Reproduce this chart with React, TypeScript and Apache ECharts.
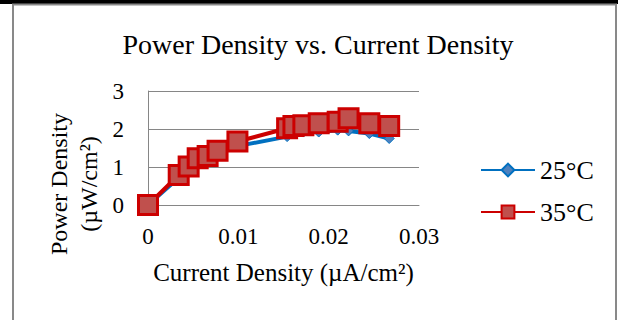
import React, { useEffect, useRef } from "react";
import * as echarts from "echarts";

const xValues = [0, 0.0034, 0.0045, 0.0055, 0.0066, 0.0077, 0.0099, 0.0154, 0.0161, 0.0172, 0.0189, 0.021, 0.0222, 0.0245, 0.0267];
const series25 = [0, 0.72, 0.95, 1.12, 1.22, 1.34, 1.55, 1.8, 1.88, 1.92, 1.92, 1.97, 1.95, 1.88, 1.75];
const series35 = [0, 0.79, 1.01, 1.23, 1.29, 1.43, 1.67, 2.02, 2.08, 2.1, 2.15, 2.19, 2.28, 2.15, 2.08];
const xTicks = [0, 0.01, 0.02, 0.03];
const yTicks = [0, 1, 2, 3];
const seriesNames = ["25°C", "35°C"];

const FONT = "'Liberation Serif', 'Times New Roman', serif";

export default function App() {
  const ref = useRef<HTMLDivElement>(null);
  useEffect(() => {
    if (!ref.current) return;
    const chart = echarts.init(ref.current, undefined, { renderer: "svg" });
    chart.setOption({
      animation: false,
      backgroundColor: "#ffffff",
      textStyle: { fontFamily: FONT, color: "#000" },
      title: {
        text: "Power Density vs. Current Density",
        left: 313,
        textAlign: "center",
        top: 25,
        textStyle: { fontFamily: FONT, fontSize: 28, fontWeight: "normal", color: "#000" },
      },
      graphic: [
        { type: "rect", shape: { x: 0, y: 0, width: 618, height: 4 }, style: { fill: "#000" }, z: 10 },
        { type: "rect", shape: { x: 13, y: 4.5, width: 603, height: 330 }, style: { fill: "none", stroke: "#898989", lineWidth: 2 }, z: 10 },
      ],
      legend: {
        orient: "vertical",
        left: 475,
        top: 152,
        itemWidth: 54,
        itemHeight: 16,
        itemGap: 16,
        data: seriesNames,
        textStyle: { fontFamily: FONT, fontSize: 26, color: "#000" },
      },
      grid: { left: 148, right: 199, top: 91, bottom: 115 },
      xAxis: {
        type: "value",
        min: xTicks[0],
        max: xTicks[xTicks.length - 1],
        interval: 0.01,
        name: "Current Density (µA/cm²)",
        nameLocation: "middle",
        nameGap: 55,
        nameTextStyle: { fontFamily: FONT, fontSize: 25, color: "#000" },
        axisLine: { lineStyle: { color: "#868686", width: 1 } },
        axisTick: { show: false },
        splitLine: { show: false },
        axisLabel: { fontFamily: FONT, fontSize: 23, color: "#000", margin: 20 },
      },
      yAxis: {
        type: "value",
        min: yTicks[0],
        max: yTicks[yTicks.length - 1],
        interval: 1,
        name: "Power Density\n(µW/cm²)",
        nameLocation: "middle",
        nameRotate: 90,
        nameGap: 44,
        nameTextStyle: { fontFamily: FONT, fontSize: 24, color: "#000", lineHeight: 30, padding: [0, 72, 0, 0] },
        axisLine: { show: true, lineStyle: { color: "#868686", width: 1 } },
        axisTick: { show: false },
        splitLine: { lineStyle: { color: "#868686", width: 1 } },
        axisLabel: { fontFamily: FONT, fontSize: 23, color: "#000", margin: 24 },
      },
      series: [
        {
          name: seriesNames[0],
          type: "line",
          data: xValues.map((x, i) => [x, series25[i]]),
          symbol: "diamond",
          symbolSize: 10,
          lineStyle: { color: "#0070C0", width: 4 },
          itemStyle: { color: "#4F81BD", borderColor: "#0070C0", borderWidth: 1 },
        },
        {
          name: seriesNames[1],
          type: "line",
          data: xValues.map((x, i) => [x, series35[i]]),
          symbol: "rect",
          symbolSize: 19,
          lineStyle: { color: "#CC0000", width: 4 },
          itemStyle: { color: "#C0504D", borderColor: "#CC0000", borderWidth: 3 },
        },
      ],
    });
    return () => chart.dispose();
  }, []);
  return <div ref={ref} style={{ position: "fixed", left: 0, top: 0, width: 618, height: 320 }} />;
}
